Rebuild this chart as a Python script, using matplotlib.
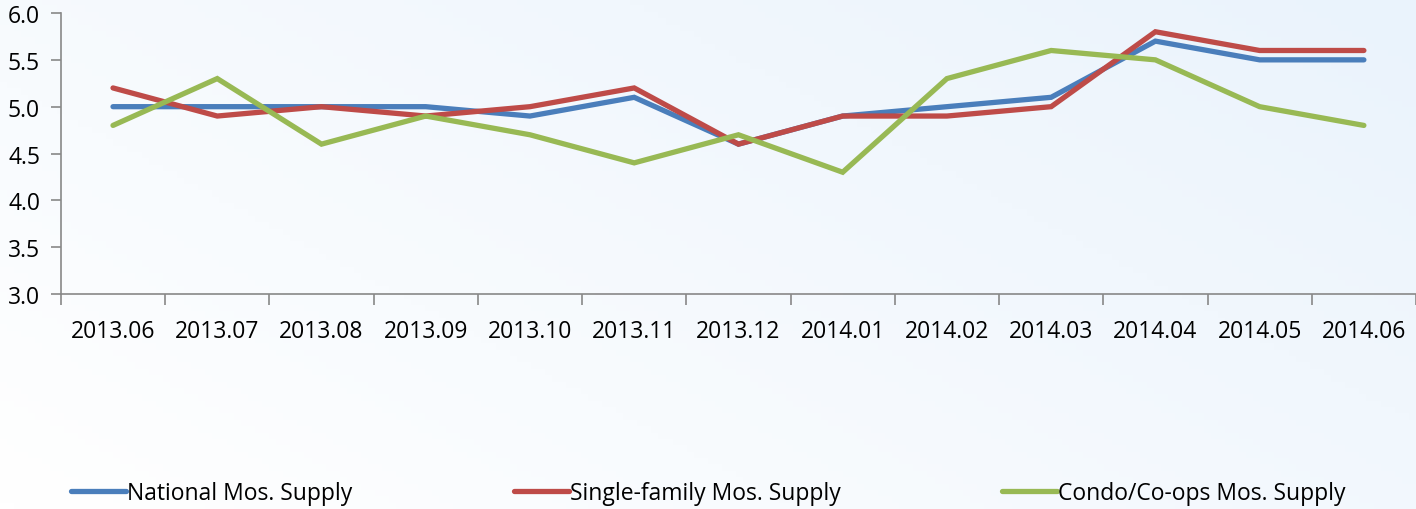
import matplotlib.pyplot as plt
import numpy as np

months = ["2013.06", "2013.07", "2013.08", "2013.09", "2013.10", "2013.11", "2013.12",
          "2014.01", "2014.02", "2014.03", "2014.04", "2014.05", "2014.06"]
national = [5.0, 5.0, 5.0, 5.0, 4.9, 5.1, 4.6, 4.9, 5.0, 5.1, 5.7, 5.5, 5.5]
single_family = [5.2, 4.9, 5.0, 4.9, 5.0, 5.2, 4.6, 4.9, 4.9, 5.0, 5.8, 5.6, 5.6]
condo = [4.8, 5.3, 4.6, 4.9, 4.7, 4.4, 4.7, 4.3, 5.3, 5.6, 5.5, 5.0, 4.8]

SERIES = [
    ("National Mos. Supply", national, "#4a7ebb"),
    ("Single-family Mos. Supply", single_family, "#be4b48"),
    ("Condo/Co-ops Mos. Supply", condo, "#98b954"),
]

plt.rcParams["font.family"] = ["Open Sans", "DejaVu Sans"]

fig = plt.figure(figsize=(14.16, 5.10), dpi=100)

# soft gradient background, white bottom-left to pale blue top-right
bg = fig.add_axes([0, 0, 1, 1], zorder=-10)
gx, gy = np.meshgrid(np.linspace(0, 1, 200), np.linspace(0, 1, 80))
bg.imshow(gx * 0.6 + gy * 0.4, cmap=plt.matplotlib.colors.LinearSegmentedColormap.from_list(
    "bgc", ["#ffffff", "#eaf3fc"]), aspect="auto", origin="lower", extent=[0, 1, 0, 1])
bg.axis("off")

ax = fig.add_axes([0.043, 0.4216, 0.957, 0.5509])
ax.patch.set_alpha(0)
x = np.arange(len(months))
for label, vals, color in SERIES:
    ax.plot(x, vals, color=color, lw=3.8, label=label, solid_capstyle="round",
            solid_joinstyle="miter")

ax.set_xlim(-0.5, len(months) - 0.5)
ax.set_ylim(3.0, 6.0)
ax.set_yticks(np.arange(3.0, 6.01, 0.5))
ax.set_yticklabels([f"{v:.1f}" for v in np.arange(3.0, 6.01, 0.5)])
ax.set_xticks(x)
ax.set_xticklabels(months)
ax.set_xticks(np.arange(-0.5, len(months), 1.0), minor=True)
ax.tick_params(axis="x", which="major", length=0, pad=18, labelsize=16.5)
ax.tick_params(axis="x", which="minor", length=8, color="#888888", width=1.2)
ax.tick_params(axis="y", length=7, color="#888888", width=1.2, labelsize=16.5, pad=8)
for s in ["top", "right"]:
    ax.spines[s].set_visible(False)
for s in ["left", "bottom"]:
    ax.spines[s].set_color("#888888")
    ax.spines[s].set_linewidth(1.2)

handles, labels = ax.get_legend_handles_labels()
fig.legend(handles, labels, loc="center left", bbox_to_anchor=(0.0435, 0.031),
           ncol=3, frameon=False, fontsize=16.5, handlelength=2.4,
           handletextpad=0.05, columnspacing=7.05, borderaxespad=0)

fig.savefig("out.png", dpi=100)
